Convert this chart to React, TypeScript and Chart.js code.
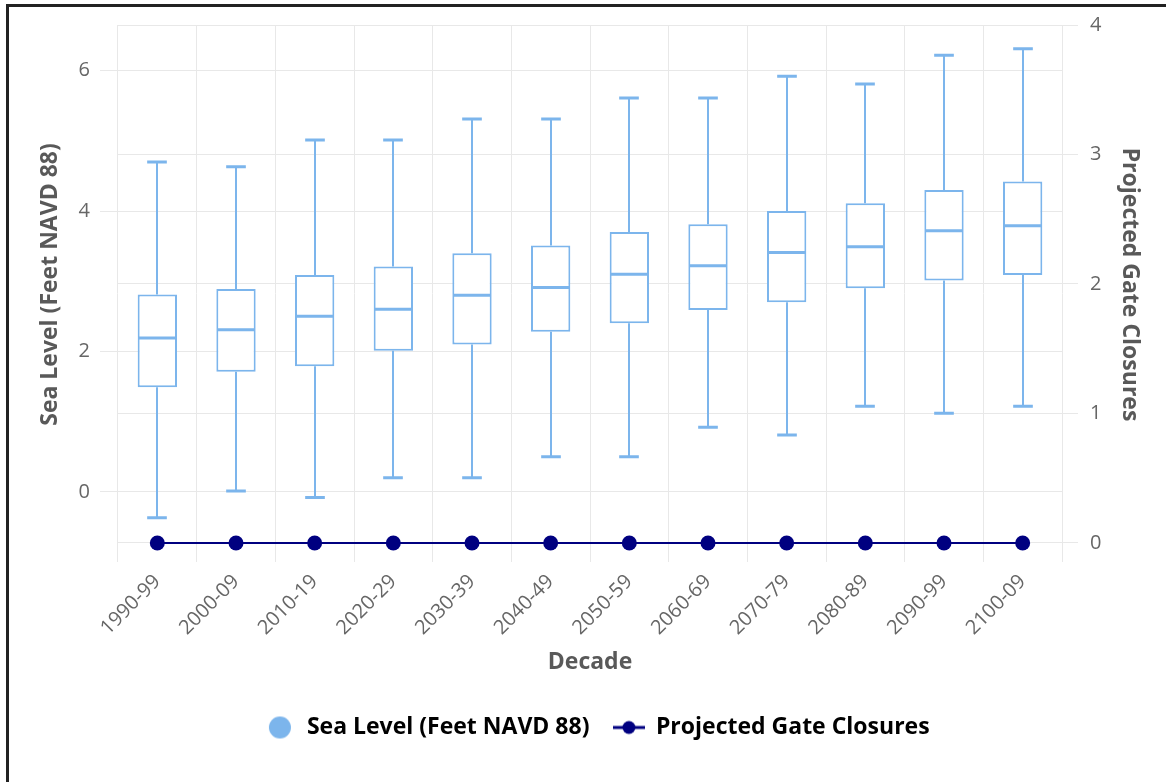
import React, { useEffect, useRef } from 'react';
import { Chart, registerables } from 'chart.js';

Chart.register(...registerables);

// ---- data ----
const decades = ['1990-99', '2000-09', '2010-19', '2020-29', '2030-39', '2040-49', '2050-59', '2060-69', '2070-79', '2080-89', '2090-99', '2100-09'];
const seaMin = [-0.37, 0.01, -0.08, 0.2, 0.2, 0.5, 0.5, 0.92, 0.81, 1.22, 1.12, 1.22];
const seaQ1 = [1.49, 1.71, 1.79, 2.01, 2.1, 2.28, 2.4, 2.59, 2.7, 2.9, 3.01, 3.09];
const seaMedian = [2.19, 2.31, 2.5, 2.6, 2.8, 2.91, 3.1, 3.22, 3.41, 3.49, 3.72, 3.79];
const seaQ3 = [2.81, 2.89, 3.09, 3.21, 3.4, 3.51, 3.7, 3.81, 4.0, 4.11, 4.3, 4.42];
const seaMax = [4.7, 4.63, 5.01, 5.01, 5.31, 5.31, 5.61, 5.61, 5.92, 5.81, 6.22, 6.31];
const gateClosures = [0, 0, 0, 0, 0, 0, 0, 0, 0, 0, 0, 0];
const leftTicks = [0, 2, 4, 6];
const rightTicks = [0, 1, 2, 3, 4];

const seriesNames = ['Sea Level (Feet NAVD 88)', 'Projected Gate Closures'];
const axisTitles = { x: 'Decade', y: 'Sea Level (Feet NAVD 88)', y1: 'Projected Gate Closures' };

const BOX_COLOR = '#7cb5ec';
const NAVY = '#000080';
const GRID = '#e8e8e8';
const TICK_COLOR = '#666666';
const TITLE_COLOR = '#595959';
const FONT = "'Open Sans', sans-serif";

const whiskerPlugin = {
  id: 'whiskers',
  afterDatasetsDraw(chart: any) {
    const meta = chart.getDatasetMeta(0);
    const yScale = chart.scales.y;
    const ctx = chart.ctx;
    ctx.save();
    ctx.strokeStyle = BOX_COLOR;
    ctx.lineCap = 'butt';
    meta.data.forEach((bar: any, i: number) => {
      const x = Math.round(bar.x);
      const half = bar.width / 2;
      const yMax = yScale.getPixelForValue(seaMax[i]);
      const yMin = yScale.getPixelForValue(seaMin[i]);
      const yQ1 = yScale.getPixelForValue(seaQ1[i]);
      const yQ3 = yScale.getPixelForValue(seaQ3[i]);
      const yMed = yScale.getPixelForValue(seaMedian[i]);
      ctx.lineWidth = 2;
      ctx.beginPath();
      ctx.moveTo(x, yQ3);
      ctx.lineTo(x, yMax);
      ctx.moveTo(x, yQ1);
      ctx.lineTo(x, yMin);
      ctx.stroke();
      ctx.lineWidth = 3;
      ctx.beginPath();
      ctx.moveTo(x - half / 2, yMax);
      ctx.lineTo(x + half / 2, yMax);
      ctx.moveTo(x - half / 2, yMin);
      ctx.lineTo(x + half / 2, yMin);
      ctx.moveTo(x - half + 1, yMed);
      ctx.lineTo(x + half - 1, yMed);
      ctx.stroke();
    });
    ctx.restore();
  },
};

// vertical axis titles, centred a little above the middle of the plot (as in the reference)
const sideTitlesPlugin = {
  id: 'sideTitles',
  afterDraw(chart: any) {
    const { ctx, chartArea } = chart;
    const cy = (chartArea.top + chartArea.bottom) / 2 - 9;
    ctx.save();
    ctx.fillStyle = TITLE_COLOR;
    ctx.font = `bold 23px ${FONT}`;
    ctx.textAlign = 'center';
    ctx.textBaseline = 'middle';
    ctx.translate(50, cy);
    ctx.rotate(-Math.PI / 2);
    ctx.fillText(axisTitles.y, 0, 0);
    ctx.restore();
    ctx.save();
    ctx.fillStyle = TITLE_COLOR;
    ctx.font = `bold 23px ${FONT}`;
    ctx.textAlign = 'center';
    ctx.textBaseline = 'middle';
    ctx.translate(1130, cy);
    ctx.rotate(Math.PI / 2);
    ctx.fillText(axisTitles.y1, 0, 0);
    ctx.restore();
  },
};

function circleSymbol(): HTMLCanvasElement {
  const c = document.createElement('canvas');
  c.width = 24;
  c.height = 24;
  const g = c.getContext('2d')!;
  g.fillStyle = BOX_COLOR;
  g.beginPath();
  g.arc(12, 12, 11, 0, Math.PI * 2);
  g.fill();
  return c;
}

function lineSymbol(): HTMLCanvasElement {
  const c = document.createElement('canvas');
  c.width = 32;
  c.height = 16;
  const g = c.getContext('2d')!;
  g.strokeStyle = NAVY;
  g.lineWidth = 3;
  g.beginPath();
  g.moveTo(0, 8);
  g.lineTo(32, 8);
  g.stroke();
  g.fillStyle = NAVY;
  g.beginPath();
  g.arc(16, 8, 6.5, 0, Math.PI * 2);
  g.fill();
  return c;
}

export default function App() {
  const canvasRef = useRef<HTMLCanvasElement | null>(null);

  useEffect(() => {
    if (!canvasRef.current) return;
    const symbols = [circleSymbol(), lineSymbol()];
    const chart = new Chart(canvasRef.current, {
      type: 'bar',
      data: {
        labels: decades,
        datasets: [
          {
            type: 'bar',
            label: seriesNames[0],
            data: decades.map((_, i) => [seaQ1[i], seaQ3[i]]) as any,
            backgroundColor: '#ffffff',
            borderColor: BOX_COLOR,
            borderWidth: 2,
            borderSkipped: false,
            barPercentage: 0.5,
            categoryPercentage: 1,
            yAxisID: 'y',
            order: 2,
          },
          {
            type: 'line',
            label: seriesNames[1],
            data: gateClosures,
            borderColor: NAVY,
            backgroundColor: NAVY,
            borderWidth: 2,
            pointRadius: 7.5,
            pointBackgroundColor: NAVY,
            pointBorderWidth: 0,
            yAxisID: 'y1',
            order: 1,
          } as any,
        ],
      },
      options: {
        responsive: false,
        animation: false,
        layout: { padding: { top: 25, left: 28, right: 0, bottom: 33 } },
        plugins: {
          tooltip: { enabled: false },
          legend: {
            position: 'bottom',
            labels: {
              usePointStyle: true,
              pointStyleWidth: 31,
              padding: 24,
              color: '#333333',
              font: { family: FONT, size: 23, weight: 'bold' },
              generateLabels: () =>
                seriesNames.map((name, i) => ({
                  text: name,
                  pointStyle: symbols[i] as any,
                  fillStyle: i === 0 ? BOX_COLOR : NAVY,
                  strokeStyle: i === 0 ? BOX_COLOR : NAVY,
                  lineWidth: 0,
                  hidden: false,
                  datasetIndex: i,
                })),
            },
          },
        },
        scales: {
          x: {
            type: 'category',
            offset: true,
            grid: { offset: true, color: GRID, drawTicks: false, lineWidth: 1 },
            border: { display: false },
            ticks: {
              minRotation: 45,
              maxRotation: 45,
              padding: 8,
              color: TICK_COLOR,
              font: { family: FONT, size: 20 },
            },
            title: {
              display: true,
              text: axisTitles.x,
              color: TITLE_COLOR,
              font: { family: FONT, size: 23, weight: 'bold' },
              padding: { top: 0, bottom: 16 },
            },
            afterFit: (scale: any) => {
              scale.height = 130;
            },
          },
          y: {
            type: 'linear',
            position: 'left',
            min: -1,
            max: 6.65,
            grid: { color: GRID, tickLength: 18, drawTicks: true },
            border: { display: false },
            afterBuildTicks: (scale: any) => {
              scale.ticks = leftTicks.map((v) => ({ value: v }));
            },
            ticks: {
              padding: 10,
              color: TICK_COLOR,
              font: { family: FONT, size: 20 },
            },
            title: { display: false },
            afterFit: (scale: any) => {
              scale.width = 90;
            },
          },
          y1: {
            type: 'linear',
            position: 'right',
            min: -0.147,
            max: 4,
            grid: { color: GRID, tickLength: 16, drawTicks: true },
            border: { display: false },
            afterBuildTicks: (scale: any) => {
              scale.ticks = rightTicks.map((v) => ({ value: v }));
            },
            ticks: {
              padding: 12,
              color: TICK_COLOR,
              font: { family: FONT, size: 20 },
            },
            title: { display: false },
            afterFit: (scale: any) => {
              scale.width = 104;
            },
          },
        },
      },
      plugins: [whiskerPlugin, sideTitlesPlugin],
    });
    return () => chart.destroy();
  }, []);

  return (
    <div style={{ position: 'absolute', left: 0, top: 0, width: 1166, height: 782, background: '#ffffff', overflow: 'hidden' }}>
      <div
        style={{
          position: 'absolute',
          left: 6,
          top: 4,
          width: 1166,
          height: 782,
          borderLeft: '3px solid #222222',
          borderTop: '3px solid #222222',
        }}
      />
      <canvas ref={canvasRef} width={1166} height={782} style={{ position: 'absolute', left: 0, top: 0 }} />
    </div>
  );
}
